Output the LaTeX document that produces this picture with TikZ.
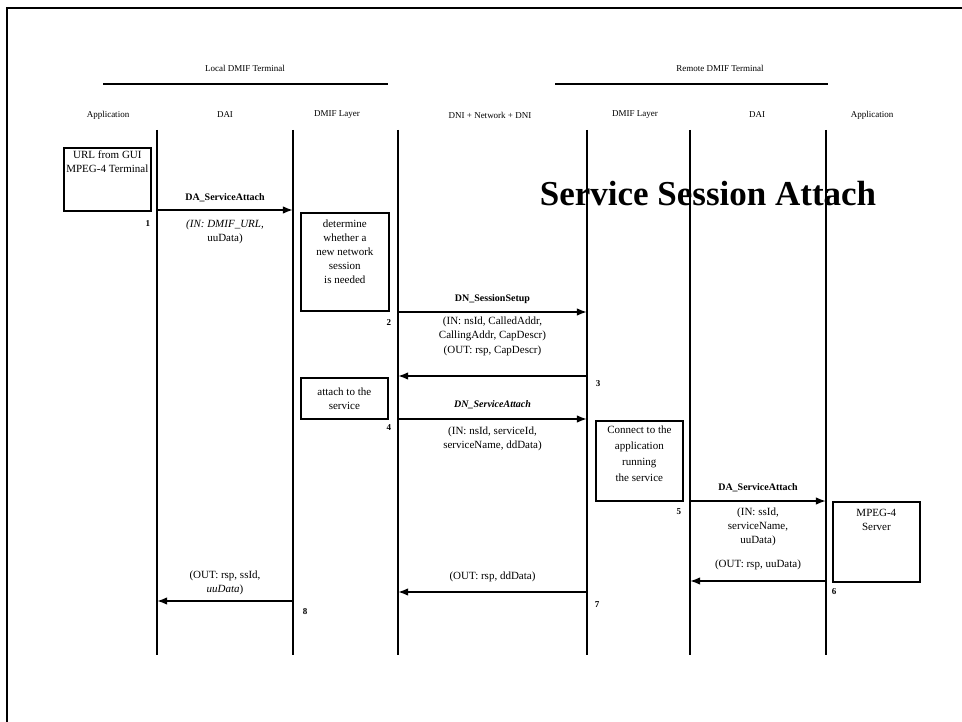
\documentclass[tikz,border=0pt]{standalone}
\usepackage{fontspec}
\setmainfont{Liberation Serif}
\usetikzlibrary{arrows.meta,positioning}

\begin{document}
\begin{tikzpicture}[x=1pt,y=-1pt,font=\fontsize{11}{14}\selectfont,>=Latex]
    \tikzset{
      life/.style={line width=1.4pt},
      box/.style={draw, line width=1.7pt, anchor=north west, inner sep=0pt, align=center},
      boxtext/.style={align=center, inner sep=1pt},
      head/.style={font=\fontsize{9}{11}\selectfont},
      msg/.style={above=#1, inner sep=1pt, font=\bfseries\fontsize{10}{12}\selectfont},
      par/.style={below=#1, align=center, inner sep=1pt},
      ret/.style={above=#1, align=center, inner sep=1pt},
      arrow/.style={->, line width=1.6pt},
      num/.style={inner sep=1pt, font=\bfseries\fontsize{9}{11}\selectfont}
    }
    \useasboundingbox (0,0) rectangle (962,722);
    \draw[line width=2pt] (962,8) -- (7,8) -- (7,722);

    % terminals and columns
    \node[head] (local) at (245,68) {Local DMIF Terminal};
    \node[head] (remote) at (720,68) {Remote DMIF Terminal};
    \draw[line width=1.6pt] (103,84) -- (388,84);
    \draw[line width=1.6pt] (555,84) -- (828,84);
    \foreach \n/\x/\t in {c1/108/Application, c2/225/DAI, c3/337/DMIF Layer,
        c4/490/DNI + Network + DNI, c5/635/DMIF Layer, c6/757/DAI, c7/872/Application}
      \node[head] (\n) at (\x,115) {\t};
    \foreach \n/\x in {l1/157,l2/293,l3/398,l4/587,l5/690,l6/826}
      \draw[life] (\x,130) coordinate (\n) -- (\x,655);

    \node[font=\bfseries\fontsize{35}{40}\selectfont] (title) at (708,194) {Service Session Attach};

    % boxes
    \node[box, minimum width=87pt, minimum height=63pt] (gui) at (63,147) {};
    \node[boxtext, below=3pt of gui.north] (guitext) {URL from GUI\\MPEG-4 Terminal};
    \node[box, minimum width=88pt, minimum height=98pt] (decide) at (300,212) {};
    \node[boxtext, below=7pt of decide.north] (decidetext)
      {determine\\whether a\\new network\\session\\is needed};
    \node[box, minimum width=87pt, minimum height=41pt] (attach) at (300,377) {attach to the\\service};
    \node[box, minimum width=87pt, minimum height=80pt] (connect) at (595,420) {};
    \node[boxtext, below=5pt of connect.north, font=\fontsize{11}{16}\selectfont] (connecttext)
      {Connect to the\\application\\running\\the service};
    \node[box, minimum width=87pt, minimum height=80pt] (server) at (832,501) {};
    \node[boxtext, below=7pt of server.north] (servertext) {MPEG-4\\Server};

    % messages
    \draw[arrow] (l1 |- 0,210) -- node[msg=6pt] (m1) {DA\_ServiceAttach}
      node[par=8pt] (p1) {\textit{(IN: DMIF\_URL,}\\uuData)}
      node[num, pos=0, below left=9pt and 5pt] (n1) {1} (l2 |- 0,210);
    \draw[arrow] (l3 |- 0,312) -- node[msg=7pt] (m2) {DN\_SessionSetup}
      node[par=3pt] (p2) {(IN: nsId, CalledAddr,\\CallingAddr, CapDescr)}
      node[num, pos=0, below left=6pt and 5pt] (n2) {2} (l4 |- 0,312);
    \draw[arrow] (l4 |- 0,376) -- node[ret=18pt] (p3) {(OUT: rsp, CapDescr)}
      node[num, pos=0, below right=3pt and 7pt] (n3) {3} (l3 |- 0,376);
    \draw[arrow] (l3 |- 0,419) -- node[msg=8pt, font=\bfseries\itshape\fontsize{10}{12}\selectfont] (m4) {DN\_ServiceAttach}
      node[par=6pt] (p4) {(IN: nsId, serviceId,\\serviceName, ddData)}
      node[num, pos=0, below left=4pt and 5pt] (n4) {4} (l4 |- 0,419);
    \draw[arrow] (l5 |- 0,501) -- node[msg=7pt] (m5) {DA\_ServiceAttach}
      node[par=5pt] (p5) {(IN: ssId,\\serviceName,\\uuData)}
      node[num, pos=0, below left=6pt and 7pt] (n5) {5} (l6 |- 0,501);
    \draw[arrow] (l6 |- 0,581) -- node[ret=9pt] (p6) {(OUT: rsp, uuData)}
      node[num, pos=0, below right=6pt and 4pt] (n6) {6} (l5 |- 0,581);
    \draw[arrow] (l4 |- 0,592) -- node[ret=8pt] (p7) {(OUT: rsp, ddData)}
      node[num, pos=0, below right=8pt and 6pt] (n7) {7} (l3 |- 0,592);
    \draw[arrow] (l2 |- 0,601) -- node[ret=4pt] (p8) {(OUT: rsp, ssId,\\\textit{uuData})}
      node[num, pos=0, below right=6pt and 8pt] (n8) {8} (l1 |- 0,601);
\end{tikzpicture}
\end{document}
